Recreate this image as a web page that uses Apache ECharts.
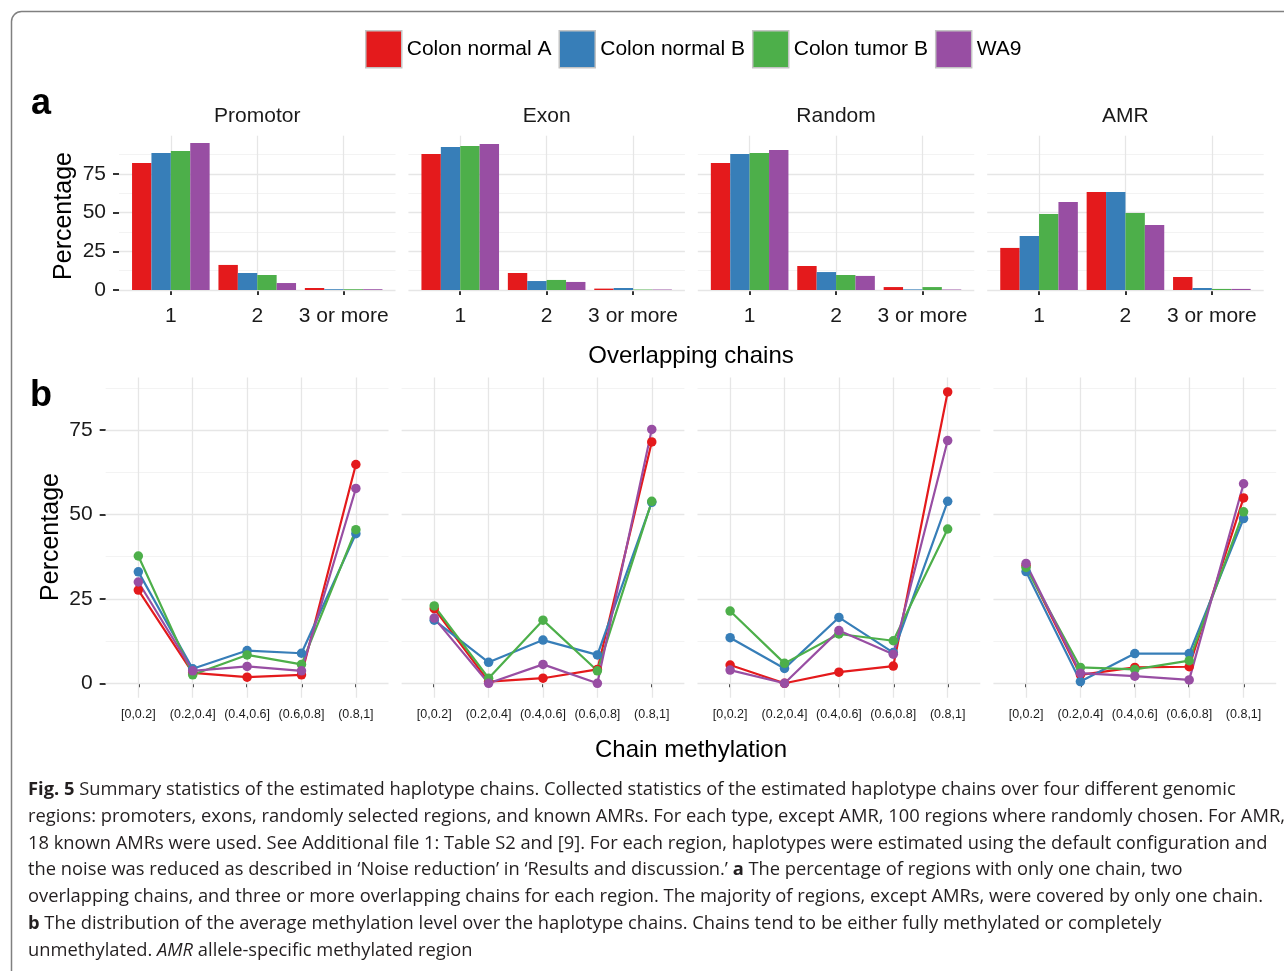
<!DOCTYPE html>
<html><head><meta charset="utf-8">
<script src="https://cdn.jsdelivr.net/npm/echarts@6/dist/echarts.min.js"></script>
<style>html,body{margin:0;padding:0;background:#fff}#c{width:1284px;height:971px}</style>
</head><body><div id="c"></div>
<script>
// ---------- data ----------
const samples = ['Colon normal A', 'Colon normal B', 'Colon tumor B', 'WA9'];
const colors = ['#E41A1C', '#377EB8', '#4DAF4A', '#984EA3'];
const regions = ['Promotor', 'Exon', 'Random', 'AMR'];
const chainCats = ['1', '2', '3 or more'];
const methCats = ['[0,0.2]', '(0.2,0.4]', '(0.4,0.6]', '(0.6,0.8]', '(0.8,1]'];
const yTickValues = [0, 25, 50, 75];
const yMinorValues = [12.5, 37.5, 62.5, 87.5];

// panel a: % of regions by number of overlapping chains (rows = samples, cols = chainCats)
const chainsPromotor = [[82.1, 16.2, 1.3], [88.6, 11.0, 0.5], [89.9, 9.7, 0.5], [95.0, 4.5, 0.5]];
const chainsExon     = [[87.9, 11.0, 0.9], [92.4, 5.8, 1.3], [93.1, 6.5, 0.3], [94.4, 5.2, 0.3]];
const chainsRandom   = [[82.1, 15.5, 1.9], [87.9, 11.6, 0.4], [88.6, 9.7, 1.9], [90.5, 9.1, 0.3]];
const chainsAMR      = [[27.2, 63.3, 8.4], [34.9, 63.3, 1.3], [49.1, 49.8, 0.7], [56.9, 42.0, 0.7]];

// panel b: % of chains by average methylation (rows = samples, cols = methCats)
const methPromotor = [[27.6, 3.1, 1.8, 2.5, 64.8], [33.0, 4.3, 9.7, 8.9, 44.3], [37.7, 2.5, 8.4, 5.6, 45.5], [30.0, 3.7, 5.0, 3.7, 57.7]];
const methExon     = [[22.1, 0.5, 1.5, 4.1, 71.5], [18.7, 6.2, 12.8, 8.4, 53.6], [22.9, 1.5, 18.7, 3.7, 53.9], [19.3, 0.0, 5.6, 0.0, 75.2]];
const methRandom   = [[5.4, 0.0, 3.3, 5.1, 86.3], [13.5, 4.4, 19.5, 9.1, 53.9], [21.4, 5.9, 14.6, 12.6, 45.7], [3.9, 0.0, 15.6, 8.6, 71.9]];
const methAMR      = [[34.9, 2.5, 4.7, 4.9, 54.9], [33.1, 0.5, 8.8, 8.8, 48.8], [34.3, 4.7, 4.1, 6.7, 50.8], [35.5, 3.0, 2.1, 1.0, 59.1]];

const captionLines = [
  '{b|Fig. 5} Summary statistics of the estimated haplotype chains. Collected statistics of the estimated haplotype chains over four different genomic',
  'regions: promoters, exons, randomly selected regions, and known AMRs. For each type, except AMR, 100 regions where randomly chosen. For AMR,',
  '18 known AMRs were used. See Additional file 1: Table S2 and [9]. For each region, haplotypes were estimated using the default configuration and',
  'the noise was reduced as described in \u2018Noise reduction\u2019 in \u2018Results and discussion.\u2019 {b|a} The percentage of regions with only one chain, two',
  'overlapping chains, and three or more overlapping chains for each region. The majority of regions, except AMRs, were covered by only one chain.',
  '{b|b} The distribution of the average methylation level over the haplotype chains. Chains tend to be either fully methylated or completely',
  'unmethylated. {i|AMR} allele-specific methylated region'
];

// ---------- build ----------
const chains = [chainsPromotor, chainsExon, chainsRandom, chainsAMR];
const meth = [methPromotor, methExon, methRandom, methAMR];
const FF = '"Liberation Sans", Arial, sans-serif';
const CF = '"Open Sans", "Noto Sans", sans-serif';
const majorGrid = { color: '#e6e6e6', width: 1.3, type: 'solid' };
const minorGrid = { color: '#f3f3f3', width: 1, type: 'solid' };

function gridMarks(nCats) {
  const d = [];
  yTickValues.forEach(v => d.push({ yAxis: v, lineStyle: majorGrid }));
  yMinorValues.forEach(v => d.push({ yAxis: v, lineStyle: minorGrid }));
  for (let k = 1; k <= nCats; k++) d.push({ xAxis: k, lineStyle: majorGrid });
  return { silent: true, symbol: 'none', z: 1, animation: false, label: { show: false }, emphasis: { disabled: true }, data: d };
}

const grid = [], xAxis = [], yAxis = [], series = [];
const aLeft = 119, aStep = 289.4, aW = 276.5, aTop = 135.7, aH = 154.3;
const bLeft = 105.7, bStep = 295.9, bW = 282.8, bTop = 377.4, bH = 320.4;
const tickStyle = { color: '#333', width: 2 };

for (let i = 0; i < 4; i++) {
  grid.push({ left: aLeft + i * aStep, top: aTop, width: aW, height: aH });
  xAxis.push({
    gridIndex: i, type: 'value', min: 0.4, max: 3.6, offset: 8,
    axisLine: { show: false }, splitLine: { show: false },
    axisTick: { customValues: [1, 2, 3], length: 5, lineStyle: tickStyle },
    axisLabel: { customValues: [1, 2, 3], formatter: v => chainCats[Math.round(v) - 1], fontSize: 21, fontFamily: FF, color: '#1a1a1a', margin: 8 }
  });
  yAxis.push({
    gridIndex: i, type: 'value', min: 0, max: 99.75,
    axisLine: { show: false }, splitLine: { show: false },
    axisTick: { show: i === 0, customValues: yTickValues, length: 6, lineStyle: tickStyle },
    axisLabel: { show: i === 0, customValues: yTickValues, fontSize: 21, fontFamily: FF, color: '#1a1a1a', margin: 13 }
  });
  // helper series carrying the panel grid lines
  series.push({
    type: 'line', name: 'grid' + i, xAxisIndex: i, yAxisIndex: i, data: [], silent: true,
    showSymbol: false, animation: false, markLine: gridMarks(3)
  });
  samples.forEach((s, k) => {
    series.push({
      type: 'bar', name: s, xAxisIndex: i, yAxisIndex: i,
      data: chains[i][k].map((v, c) => [c + 1, v]),
      barWidth: 19.4, barGap: '0%',
      itemStyle: { color: colors[k] }, animation: false
    });
  });
}
for (let i = 0; i < 4; i++) {
  const gi = 4 + i;
  grid.push({ left: bLeft + i * bStep, top: bTop, width: bW, height: bH });
  xAxis.push({
    gridIndex: gi, type: 'value', min: 0.4, max: 5.6, offset: 2,
    axisLine: { show: false }, splitLine: { show: false },
    axisTick: { customValues: [1, 2, 3, 4, 5], length: 4, lineStyle: tickStyle },
    axisLabel: { customValues: [1, 2, 3, 4, 5], formatter: v => methCats[Math.round(v) - 1], fontSize: 12.5, fontFamily: FF, color: '#1a1a1a', margin: 8 }
  });
  yAxis.push({
    gridIndex: gi, type: 'value', min: -4.3, max: 90.6,
    axisLine: { show: false }, splitLine: { show: false },
    axisTick: { show: i === 0, customValues: yTickValues, length: 6, lineStyle: tickStyle },
    axisLabel: { show: i === 0, customValues: yTickValues, fontSize: 21, fontFamily: FF, color: '#1a1a1a', margin: 13 }
  });
  samples.forEach((s, k) => {
    series.push({
      type: 'line', name: s, xAxisIndex: gi, yAxisIndex: gi,
      data: meth[i][k].map((v, c) => [c + 1, v]),
      symbol: 'circle', symbolSize: 9.5, showSymbol: true,
      lineStyle: { width: 2.2, color: colors[k] }, itemStyle: { color: colors[k] },
      animation: false,
      markLine: k === 0 ? gridMarks(5) : undefined
    });
  });
}

// caption font size fit to reference line width
const cv = document.createElement('canvas').getContext('2d');
cv.font = '17px ' + CF;
const w1 = cv.measureText(captionLines[0].replace('{b|Fig. 5}', 'Fig. 5')).width;
const capSize = Math.min(19, 17 * 1206 / w1);

const graphic = [
  { type: 'rect', shape: { x: 11.5, y: 11.5, width: 1320, height: 1020, r: 10 }, style: { fill: 'none', stroke: '#808080', lineWidth: 1.5 }, silent: true },
  { type: 'text', x: 31, y: 104, style: { text: 'a', fontSize: 36, fontWeight: 'bold', fontFamily: FF, fill: '#000', verticalAlign: 'middle' } },
  { type: 'text', x: 30, y: 396, style: { text: 'b', fontSize: 36, fontWeight: 'bold', fontFamily: FF, fill: '#000', verticalAlign: 'middle' } },
  { type: 'text', x: 691, y: 356, style: { text: 'Overlapping chains', fontSize: 24, fontFamily: FF, fill: '#000', align: 'center', verticalAlign: 'middle' } },
  { type: 'text', x: 691, y: 750, style: { text: 'Chain methylation', fontSize: 24, fontFamily: FF, fill: '#000', align: 'center', verticalAlign: 'middle' } },
  { type: 'text', x: 64, y: 216, rotation: Math.PI / 2, style: { text: 'Percentage', fontSize: 25, fontFamily: FF, fill: '#000', align: 'center', verticalAlign: 'middle' } },
  { type: 'text', x: 51, y: 537, rotation: Math.PI / 2, style: { text: 'Percentage', fontSize: 25, fontFamily: FF, fill: '#000', align: 'center', verticalAlign: 'middle' } }
];
regions.forEach((r, i) => {
  graphic.push({ type: 'text', x: aLeft + i * aStep + aW / 2, y: 116, style: { text: r, fontSize: 21, fontFamily: FF, fill: '#1a1a1a', align: 'center', verticalAlign: 'middle' } });
});
captionLines.forEach((t, j) => {
  graphic.push({ type: 'text', x: 28, y: 790 + j * 26.75, style: {
    text: t, fontSize: capSize, fontFamily: CF, fill: '#231f20', verticalAlign: 'middle',
    rich: { b: { fontWeight: 'bold', fontSize: capSize, fontFamily: CF, fill: '#231f20' }, i: { fontStyle: 'italic', fontSize: capSize, fontFamily: CF, fill: '#231f20' } }
  } });
});

const chart = echarts.init(document.getElementById('c'), null, { renderer: 'canvas' });
chart.setOption({
  animation: false,
  backgroundColor: '#fff',
  legend: {
    data: samples, left: 360, top: 25, icon: 'rect', itemWidth: 36, itemHeight: 37, itemGap: 7,
    selectedMode: false,
    itemStyle: { borderColor: '#c4c4c4', borderWidth: 1.5 },
    textStyle: { fontSize: 21, fontFamily: FF, color: '#000' }
  },
  grid, xAxis, yAxis, series, graphic
});
</script></body></html>
